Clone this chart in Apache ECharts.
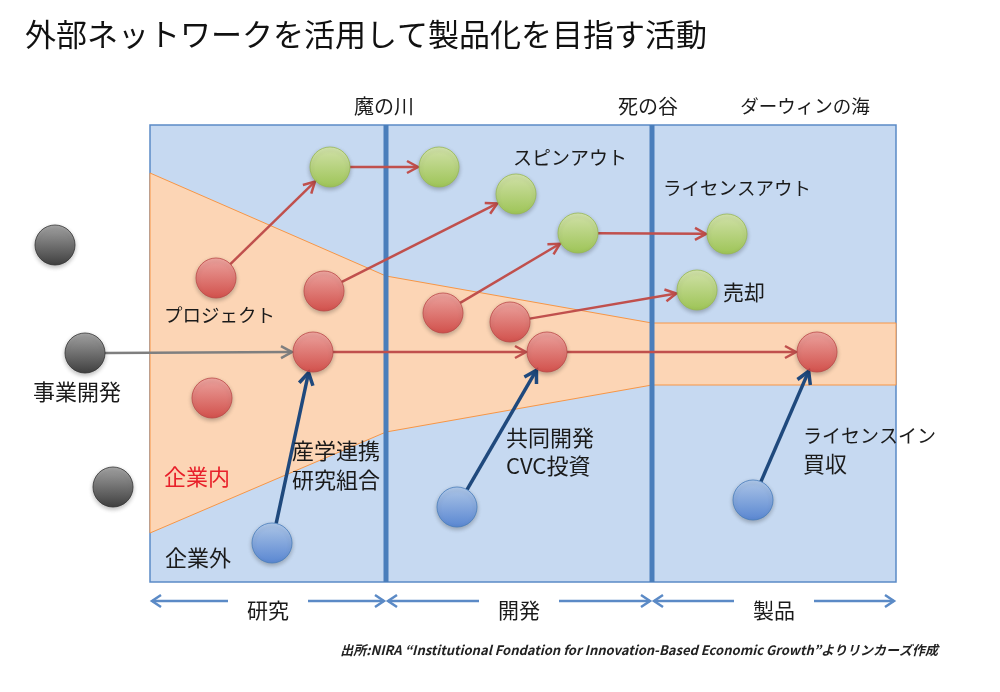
<!DOCTYPE html>
<html><head><meta charset="utf-8">
<script src="https://cdn.jsdelivr.net/npm/echarts@6/dist/echarts.min.js"></script>
<style>html,body{margin:0;padding:0;background:#fff}#c{width:1000px;height:692px}</style>
</head><body><div id="c"></div>
<script>
const FONT = '"Noto Sans CJK JP", "Noto Sans", sans-serif';

// ---- diagram data (diagram coordinate space 0..1000 x 0..692) ----
const frameBox = [150, 125, 896, 582];            // x0, y0, x1, y1
const dividerX = [386, 652];
const funnelPoints = [[150,173],[386,276],[652,323],[896,323],[896,385],[652,385],[386,432],[150,533]];
const zoneNames = ['魔の川', '死の谷', 'ダーウィンの海'];
const zoneX = [384, 648, 805];
const phaseNames = ['研究', '開発', '製品'];
const phaseBounds = [150, 386, 652, 896];

const grayNodes  = [[55,245],[85,353],[113,487]];
const redNodes   = [[216,278],[324,291],[313,352],[212,398],[443,313],[510,322],[547,352],[817,352]];
const greenNodes = [[330,167],[439,167],[516,194],[578,233],[727,234],[697,290]];
const blueNodes  = [[272,543],[457,507],[753,500]];

// arrows: [fromX, fromY, toX, toY, kind]  kind 0=red 1=blue 2=gray
const arrowLinks = [
  [85,353, 313,352, 2],
  [216,278, 330,167, 0],
  [330,167, 439,167, 0],
  [324,291, 516,194, 0],
  [443,313, 578,233, 0],
  [578,233, 727,234, 0],
  [510,322, 697,290, 0],
  [313,352, 547,352, 0],
  [547,352, 817,352, 0],
  [272,543, 313,352, 1],
  [457,507, 547,352, 1],
  [753,500, 817,352, 1]
];

// [text, x, y, colour, font size]
const textLabels = [
  ['スピンアウト', 513, 158, '#1a1a1a', 19],
  ['ライセンスアウト', 663, 188, '#1a1a1a', 18.5],
  ['売却', 723, 292, '#1a1a1a', 21],
  ['プロジェクト', 164, 315, '#1a1a1a', 18.5],
  ['事業開発', 33, 392, '#1a1a1a', 22],
  ['企業内', 164, 477, '#e8202a', 22],
  ['企業外', 165, 558, '#1a1a1a', 22],
  ['産学連携', 292, 451, '#1a1a1a', 22],
  ['研究組合', 292, 480, '#1a1a1a', 22],
  ['共同開発', 506, 438, '#1a1a1a', 22],
  ['CVC投資', 506, 466, '#1a1a1a', 22],
  ['ライセンスイン', 803, 436, '#1a1a1a', 19],
  ['買収', 803, 464, '#1a1a1a', 22]
];

const R = 20;
function grad(top, bottom) {
  return {type:'linear', x:0, y:0, x2:0, y2:1, colorStops:[{offset:0,color:top},{offset:1,color:bottom}]};
}
function nodeSeries(data, top, bottom, border) {
  return {
    type:'scatter', data:data, symbol:'circle', symbolSize:R*2, z:5,
    itemStyle:{color:grad(top,bottom), borderColor:border, borderWidth:1,
      shadowBlur:4, shadowColor:'rgba(0,0,0,0.3)', shadowOffsetY:2},
    silent:true
  };
}
const arrowColors = ['#c0504d', '#1f497d', '#7f7f7f'];
const arrowWidths = [2.5, 3.5, 2.5];

const chart = echarts.init(document.getElementById('c'), null, {renderer:'canvas'});
chart.setOption({
  animation:false,
  backgroundColor:'#ffffff',
  grid:{left:0, right:0, top:0, bottom:0},
  xAxis:{type:'value', min:0, max:1000, show:false},
  yAxis:{type:'value', min:0, max:692, inverse:true, show:false},
  graphic: [
    {type:'text', left:25, top:19, style:{text:'外部ネットワークを活用して製品化を目指す活動', font:'31px '+FONT, fill:'#111'}},
    {type:'text', right:62, top:644, style:{text:'出所:NIRA “Institutional Fondation for Innovation-Based Economic Growth”よりリンカーズ作成', font:'italic bold 13px '+FONT, fill:'#222'}}
  ],
  series:[
    // frame + funnel + dividers
    {
      type:'custom', z:1, silent:true,
      data:[[0]],
      renderItem:function(params, api){
        const p0 = api.coord([frameBox[0], frameBox[1]]);
        const p1 = api.coord([frameBox[2], frameBox[3]]);
        const children = [];
        children.push({type:'rect', shape:{x:p0[0], y:p0[1], width:p1[0]-p0[0], height:p1[1]-p0[1]},
          style:{fill:'#c6d9f1', stroke:'#5b8ac6', lineWidth:1.5}});
        children.push({type:'polygon', shape:{points:funnelPoints.map(p=>api.coord(p))},
          style:{fill:'#fcd5b5', stroke:'#f79646', lineWidth:1}});
        dividerX.forEach(function(x){
          const a = api.coord([x, frameBox[1]]), b = api.coord([x, frameBox[3]]);
          children.push({type:'line', shape:{x1:a[0], y1:a[1], x2:b[0], y2:b[1]}, style:{stroke:'#4a7ebb', lineWidth:5}});
        });
        zoneNames.forEach(function(n,i){
          const a = api.coord([zoneX[i], 106]);
          children.push({type:'text', style:{text:n, x:a[0], y:a[1], align:'center', verticalAlign:'middle', font:(i===2?'18.5px ':'20px ')+FONT, fill:'#1a1a1a'}});
        });
        // phase double arrows
        for (let i=0;i<3;i++){
          const xa = phaseBounds[i]+2, xb = phaseBounds[i+1]-2, cx = (phaseBounds[i]+phaseBounds[i+1])/2;
          const y = 601;
          const L0 = api.coord([xa,y]), L1 = api.coord([cx-40,y]), R0 = api.coord([cx+40,y]), R1 = api.coord([xb,y]);
          const st = {stroke:'#5b8ac6', lineWidth:2.5, fill:null};
          children.push({type:'line', shape:{x1:L0[0],y1:L0[1],x2:L1[0],y2:L1[1]}, style:st});
          children.push({type:'line', shape:{x1:R0[0],y1:R0[1],x2:R1[0],y2:R1[1]}, style:st});
          children.push({type:'polyline', shape:{points:[[L0[0]+9,L0[1]-6],[L0[0],L0[1]],[L0[0]+9,L0[1]+6]]}, style:st});
          children.push({type:'polyline', shape:{points:[[R1[0]-9,R1[1]-6],[R1[0],R1[1]],[R1[0]-9,R1[1]+6]]}, style:st});
          const t = api.coord([cx, 610]);
          children.push({type:'text', style:{text:phaseNames[i], x:t[0], y:t[1], align:'center', verticalAlign:'middle', font:'21px '+FONT, fill:'#1a1a1a'}});
        }
        return {type:'group', children:children};
      }
    },
    // arrows
    {
      type:'custom', z:3, silent:true,
      data:arrowLinks,
      renderItem:function(params, api){
        const a = api.coord([api.value(0), api.value(1)]);
        const b = api.coord([api.value(2), api.value(3)]);
        const k = api.value(4);
        const dx = b[0]-a[0], dy = b[1]-a[1], len = Math.sqrt(dx*dx+dy*dy);
        const ux = dx/len, uy = dy/len;
        const s = [a[0]+ux*R, a[1]+uy*R];
        const e = [b[0]-ux*(R+1), b[1]-uy*(R+1)];
        const hl = k===1 ? 12 : 11, hw = k===1 ? 7 : 6;
        const bx = e[0]-ux*hl, by = e[1]-uy*hl;
        const st = {stroke:arrowColors[k], lineWidth:arrowWidths[k], fill:null, lineJoin:'miter'};
        return {type:'group', children:[
          {type:'line', shape:{x1:s[0], y1:s[1], x2:e[0]-ux*1.5, y2:e[1]-uy*1.5}, style:st},
          {type:'polyline', shape:{points:[[bx-uy*hw, by+ux*hw], e, [bx+uy*hw, by-ux*hw]]}, style:st}
        ]};
      }
    },
    nodeSeries(grayNodes, '#9a9a9a', '#1e1e1e', '#333333'),
    nodeSeries(redNodes, '#f6a3a3', '#d63c3c', '#bb4a48'),
    nodeSeries(greenNodes, '#e0f0a6', '#9fcc3e', '#98b954'),
    nodeSeries(blueNodes, '#b3cef3', '#4a7fd8', '#4a7ebb'),
    // text labels
    {
      type:'custom', z:6, silent:true,
      data:textLabels.map(function(t,i){return [t[1], t[2], i];}),
      renderItem:function(params, api){
        const i = api.value(2);
        const p = api.coord([api.value(0), api.value(1)]);
        return {type:'text', style:{text:textLabels[i][0], x:p[0], y:p[1], verticalAlign:'middle', font:textLabels[i][4]+'px '+FONT, fill:textLabels[i][3]}};
      }
    }
  ]
});
</script>
</body></html>
